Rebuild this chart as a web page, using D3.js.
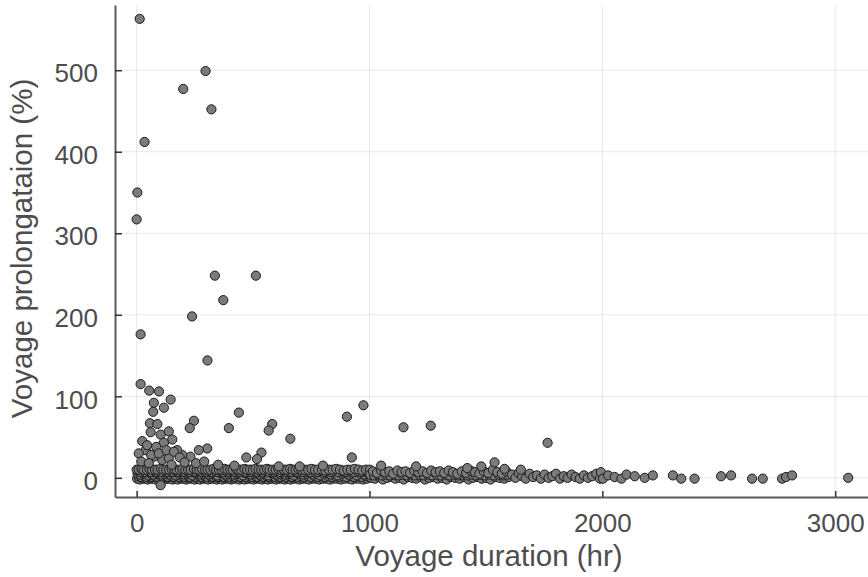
<!DOCTYPE html>
<html>
<head>
<meta charset="utf-8">
<script src="https://cdn.jsdelivr.net/npm/d3@7"></script>
<style>
  html, body { margin: 0; padding: 0; background: #fff; }
  svg { display: block; }
</style>
</head>
<body>
<svg id="chart" width="868" height="577"></svg>
<script>
// tick values
const xTicks = [0, 1000, 2000, 3000];
const yTicks = [0, 100, 200, 300, 400, 500];

// [duration hr, prolongation %]
const highPoints = [
  [13, 563], [200, 477], [296, 499], [321, 452], [34, 412], [3, 350], [0, 317],
  [336, 248], [512, 248], [372, 218], [238, 198], [17, 176], [304, 144],
  [17, 115], [54, 107], [96, 106]
];

const midPoints = [
  [146, 96], [74, 92], [71, 81], [117, 86], [57, 67], [89, 66], [24, 45], [60, 56],
  [103, 53], [138, 57], [153, 47], [117, 43], [246, 70], [228, 61], [439, 80],
  [396, 61], [582, 66], [567, 58], [660, 48], [303, 36], [267, 34], [231, 26],
  [196, 28], [174, 34], [39, 34], [74, 26], [110, 22], [138, 24], [903, 75],
  [974, 89], [1146, 62], [1263, 64], [924, 25], [536, 31], [471, 25], [517, 23],
  [1765, 43], [1537, 19], [9, 30], [45, 40], [62, 28], [84, 38], [95, 30],
  [128, 34], [160, 32], [185, 25], [206, 19], [255, 18], [290, 20], [350, 16],
  [420, 15], [610, 14], [700, 14], [800, 15], [1050, 15], [1200, 14], [1480, 14],
  [1420, 12], [1580, 11], [1650, 10], [103, -9], [20, 20], [52, 18], [150, 16]
];

const bandTop = [
  [0, 10], [9, 10], [21, 11], [30, 10], [44, 10], [55, 11], [66, 10], [79, 10], [90, 10],
  [104, 11], [115, 10], [127, 10], [139, 10], [150, 11], [163, 10], [172, 10], [186, 10],
  [197, 11], [209, 10], [221, 10], [232, 10], [246, 11], [258, 10], [269, 10], [281, 11],
  [294, 10], [305, 10], [317, 10], [330, 11], [341, 10], [353, 10], [366, 10], [377, 11],
  [390, 10], [402, 10], [413, 10], [427, 11], [438, 10], [450, 10], [463, 11], [474, 10],
  [487, 10], [499, 10], [511, 11], [524, 10], [535, 10], [548, 10], [560, 11], [571, 10],
  [585, 10], [597, 10], [608, 11], [622, 10], [633, 10], [646, 10], [659, 11], [670, 10],
  [683, 10], [695, 11], [708, 10], [722, 10], [737, 10], [751, 11], [766, 10], [780, 10],
  [796, 10], [811, 9], [826, 10], [842, 10], [857, 11], [873, 10], [889, 9], [905, 10],
  [920, 10], [937, 11], [953, 10], [969, 9], [985, 10], [1001, 10]
];

const bandUpper = [
  [6, 8], [18, 7], [32, 8], [41, 7], [52, 8], [64, 7], [77, 8], [87, 7], [99, 8],
  [111, 7], [123, 8], [135, 7], [147, 8], [159, 7], [170, 8], [183, 7], [194, 8],
  [206, 7], [218, 8], [230, 7], [243, 8], [255, 7], [266, 8], [279, 7], [291, 8],
  [302, 7], [314, 8], [327, 7], [338, 8], [350, 7], [362, 8], [374, 7], [386, 8],
  [398, 7], [410, 8], [422, 7], [435, 8], [447, 7], [459, 8], [471, 7], [483, 8],
  [495, 7], [508, 8], [520, 7], [532, 8], [544, 7], [557, 8], [569, 7], [581, 8],
  [593, 7], [605, 8], [618, 7], [630, 8], [643, 7], [655, 8], [667, 7], [680, 8],
  [692, 7], [705, 8], [719, 7], [733, 8], [748, 7], [762, 8], [777, 7], [792, 8],
  [807, 7], [822, 8], [838, 7], [853, 8], [869, 7], [885, 8], [901, 7], [917, 8],
  [933, 7], [949, 8], [965, 7], [981, 8], [997, 7]
];

const bandMid = [
  [4, 5], [16, 4], [27, 6], [38, 5], [50, 3], [61, 5], [73, 4], [85, 6], [96, 5],
  [109, 4], [120, 5], [133, 6], [145, 4], [157, 5], [168, 3], [180, 5], [192, 6],
  [204, 4], [215, 5], [227, 5], [240, 3], [252, 6], [263, 5], [276, 4], [288, 5],
  [299, 6], [311, 4], [323, 5], [336, 5], [347, 3], [359, 6], [371, 5], [383, 4],
  [395, 5], [408, 6], [419, 4], [432, 5], [444, 5], [456, 3], [468, 6], [481, 5],
  [492, 4], [505, 5], [517, 6], [529, 4], [541, 5], [554, 5], [566, 3], [578, 6],
  [590, 5], [602, 4], [615, 5], [627, 6], [640, 4], [652, 5], [664, 5], [676, 3],
  [689, 6], [702, 5], [716, 4], [730, 5], [744, 6], [759, 4], [773, 5], [788, 3],
  [803, 5], [818, 6], [834, 4], [849, 5], [865, 3], [881, 5], [897, 6], [913, 4],
  [929, 5], [945, 3], [961, 5], [977, 4], [993, 6]
];

const bandLower = [
  [8, 2], [20, 1], [33, 2], [43, 1], [56, 2], [68, 1], [78, 2], [91, 1], [102, 2],
  [113, 1], [125, 2], [137, 1], [148, 2], [161, 1], [174, 2], [184, 1], [196, 2],
  [208, 1], [219, 2], [231, 1], [244, 2], [256, 1], [268, 2], [280, 1], [292, 2],
  [304, 1], [316, 2], [328, 1], [339, 2], [352, 1], [364, 2], [376, 1], [387, 2],
  [400, 1], [411, 2], [424, 1], [436, 2], [448, 1], [460, 2], [472, 1], [485, 2],
  [497, 1], [509, 2], [521, 1], [533, 2], [546, 1], [558, 2], [570, 1], [583, 2],
  [595, 1], [607, 2], [619, 1], [631, 2], [644, 1], [657, 2], [669, 1], [681, 2],
  [694, 1], [706, 2], [720, 1], [735, 2], [749, 1], [764, 2], [778, 1], [793, 2],
  [809, 1], [824, 2], [839, 1], [855, 2], [871, 1], [887, 2], [902, 1], [918, 2],
  [935, 1], [951, 2], [967, 1], [983, 2], [999, 1]
];

const bandLow = [
  [2, -1], [13, -2], [24, -1], [35, -1], [47, -2], [58, -1], [70, -1], [81, -2], [93, -1],
  [106, -1], [118, -2], [130, -1], [141, -1], [154, -2], [166, -1], [177, -2], [189, -1],
  [201, -1], [212, -2], [224, -1], [236, -1], [249, -2], [261, -1], [272, -2], [284, -1],
  [296, -1], [308, -2], [320, -1], [333, -1], [344, -2], [356, -1], [368, -2], [380, -1],
  [392, -1], [405, -2], [416, -1], [429, -1], [441, -2], [453, -1], [465, -2], [478, -1],
  [490, -1], [502, -2], [514, -1], [526, -1], [538, -2], [551, -1], [563, -2], [575, -1],
  [587, -1], [599, -2], [612, -1], [624, -1], [636, -2], [649, -1], [661, -2], [673, -1],
  [686, -1], [699, -2], [712, -1], [726, -1], [740, -2], [755, -1], [769, -1], [784, -2],
  [799, -1], [814, -1], [830, -2], [845, -1], [861, -1], [877, -2], [893, -1], [909, -1],
  [925, -2], [941, -1], [957, -1], [973, -2], [989, -1]
];

const bandLongTop = [
  [1015, 8], [1032, 6], [1050, 9], [1066, 7], [1085, 8], [1102, 5], [1120, 9], [1138, 7],
  [1155, 8], [1174, 6], [1192, 9], [1210, 7], [1228, 8], [1247, 6], [1265, 9], [1284, 7],
  [1302, 8], [1321, 6], [1340, 9], [1358, 7], [1377, 5], [1396, 8], [1415, 6], [1434, 9],
  [1453, 7], [1472, 5], [1491, 8], [1510, 6], [1530, 10], [1549, 7], [1568, 5], [1588, 8]
];

const bandLongMid = [
  [1003, 4], [1020, 3], [1037, 4], [1054, 3], [1071, 4], [1089, 3], [1106, 4], [1124, 3],
  [1142, 4], [1160, 3], [1178, 4], [1196, 3], [1214, 4], [1233, 3], [1251, 4], [1270, 3],
  [1288, 4], [1307, 3], [1326, 4], [1344, 3], [1363, 4], [1382, 3], [1401, 4], [1420, 3],
  [1439, 4], [1458, 3], [1477, 4], [1496, 3], [1515, 4], [1535, 3], [1554, 4], [1574, 3],
  [1593, 4]
];

const bandLongLow = [
  [1008, 0], [1024, -1], [1041, 1], [1058, -2], [1076, 0], [1093, 1], [1111, -1],
  [1129, 0], [1147, -2], [1164, 1], [1183, 0], [1201, -1], [1219, 1], [1238, -2],
  [1256, 0], [1275, 1], [1293, -1], [1312, 0], [1331, -2], [1349, 1], [1368, 0],
  [1387, -1], [1406, 1], [1425, -2], [1444, 0], [1463, 1], [1482, -1], [1501, 0],
  [1520, -2], [1540, 1], [1559, 0], [1579, -1], [1598, 1]
];

const longVoyages = [
  [1612, 4], [1627, 0], [1641, 6], [1656, 2], [1671, -1], [1688, 5], [1703, 1], [1719, 3],
  [1736, -1], [1752, 4], [1769, 0], [1785, 2], [1801, 5], [1818, -1], [1834, 2], [1851, 0],
  [1868, 4], [1885, 1], [1903, -1], [1921, 3], [1938, 0], [1956, 2], [1974, 5], [1990, -1],
  [1994, 7], [2003, -1], [2025, 3], [2053, 1], [2082, -1], [2104, 4], [2139, 2], [2182, 0],
  [2217, 3], [2303, 3], [2339, -1], [2396, -1], [2510, 2], [2553, 3], [2643, -1],
  [2689, -1], [2772, -1], [2789, 1], [2815, 3], [3056, 0]
];

const points = [].concat(bandLow, bandLower, bandMid, bandUpper, bandTop,
  bandLongLow, bandLongMid, bandLongTop, longVoyages, midPoints, highPoints);

const svg = d3.select("#chart");
const plotLeft = 115, plotRight = 868, plotTop = 5, plotBottom = 497;
const font = '"Liberation Sans", Arial, Helvetica, sans-serif';
const textCol = "#4d4d4d";

const x = d3.scaleLinear().domain([-93, 3141]).range([plotLeft, plotRight]);
const y = d3.scaleLinear().domain([-23.5, 580]).range([plotBottom, plotTop]);

// grid
svg.append("g")
  .selectAll("line")
  .data(xTicks)
  .join("line")
  .attr("x1", d => x(d)).attr("x2", d => x(d))
  .attr("y1", plotTop).attr("y2", plotBottom)
  .attr("stroke", "#000").attr("stroke-opacity", 0.09).attr("stroke-width", 1);

svg.append("g")
  .selectAll("line")
  .data(yTicks)
  .join("line")
  .attr("x1", plotLeft).attr("x2", plotRight)
  .attr("y1", d => y(d)).attr("y2", d => y(d))
  .attr("stroke", "#000").attr("stroke-opacity", 0.09).attr("stroke-width", 1);

// axes
const xAxis = svg.append("g")
  .attr("transform", `translate(0,${plotBottom})`)
  .call(d3.axisBottom(x).tickValues(xTicks).tickFormat(d3.format("d"))
    .tickSizeInner(-6).tickSizeOuter(0).tickPadding(16.5));

const yAxis = svg.append("g")
  .attr("transform", `translate(${plotLeft},0)`)
  .call(d3.axisLeft(y).tickValues(yTicks).tickFormat(d3.format("d"))
    .tickSizeInner(-7).tickSizeOuter(0).tickPadding(17));

[xAxis, yAxis].forEach(g => {
  g.select(".domain").attr("stroke", "#5a5a5a").attr("stroke-width", 2);
  g.selectAll(".tick line").attr("stroke", "#333").attr("stroke-width", 1.5);
  g.selectAll(".tick text")
    .attr("font-size", 26)
    .attr("font-family", font)
    .attr("fill", textCol);
});
yAxis.selectAll(".tick text").attr("dy", "0.45em");

// points
svg.append("g")
  .selectAll("circle")
  .data(points)
  .join("circle")
  .attr("cx", d => x(d[0]))
  .attr("cy", d => y(d[1]))
  .attr("r", 4.6)
  .attr("fill", "#7b7b7b")
  .attr("stroke", "#1a1a1a")
  .attr("stroke-width", 1);

// axis titles
svg.append("text")
  .attr("x", 489)
  .attr("y", 566)
  .attr("text-anchor", "middle")
  .attr("font-family", font)
  .attr("font-size", 29.5)
  .attr("fill", textCol)
  .text("Voyage duration (hr)");

svg.append("text")
  .attr("transform", "translate(32,248.5) rotate(-90)")
  .attr("text-anchor", "middle")
  .attr("font-family", font)
  .attr("font-size", 29.5)
  .attr("fill", textCol)
  .text("Voyage prolongataion (%)");
</script>
</body>
</html>
